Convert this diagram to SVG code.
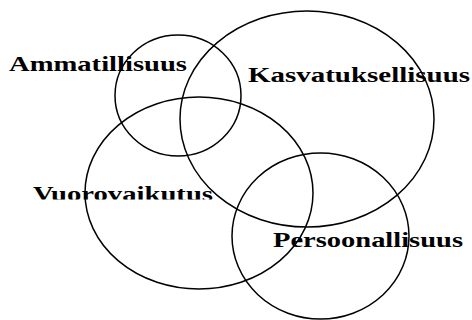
<svg xmlns="http://www.w3.org/2000/svg" width="472" height="320" viewBox="0 0 472 320">
<style>
.c{fill:none;stroke:#000;stroke-width:1.5}
.t{font-family:"Liberation Serif","Times New Roman",serif;font-weight:bold;font-size:22px;fill:#000}
</style>
<defs>
<clipPath id="vclip"><rect x="0" y="170" width="472" height="29.5"/></clipPath>
</defs>
<rect width="472" height="320" fill="#fff"/>
<g id="ammatillisuus">
<ellipse class="c" cx="178" cy="95.5" rx="63" ry="60.5"/>
<text class="t" x="9" y="71" textLength="178" lengthAdjust="spacingAndGlyphs">Ammatillisuus</text>
</g>
<g id="kasvatuksellisuus">
<ellipse class="c" cx="307" cy="119" rx="127" ry="108"/>
<text class="t" x="248" y="82" textLength="222" lengthAdjust="spacingAndGlyphs">Kasvatuksellisuus</text>
</g>
<g id="vuorovaikutus">
<ellipse class="c" cx="199" cy="193" rx="114" ry="96"/>
<text class="t" x="33" y="201" textLength="180" lengthAdjust="spacingAndGlyphs" clip-path="url(#vclip)">Vuorovaikutus</text>
</g>
<g id="persoonallisuus">
<ellipse class="c" cx="320.5" cy="236" rx="88.5" ry="83"/>
<text class="t" x="273" y="247" textLength="190" lengthAdjust="spacingAndGlyphs">Persoonallisuus</text>
</g>
<g id="connectors"></g>
</svg>
